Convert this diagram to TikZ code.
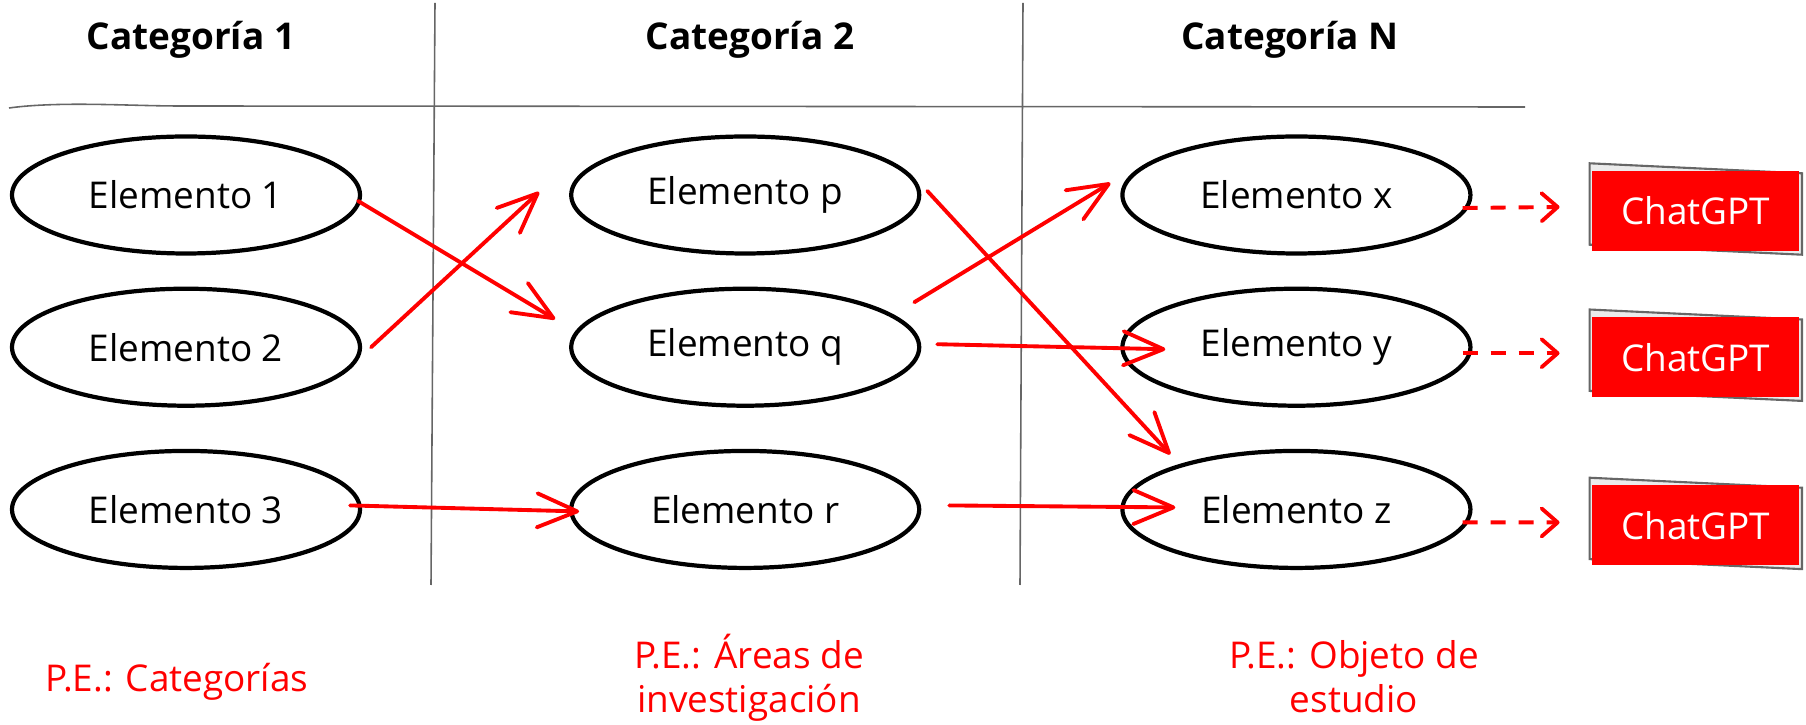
\documentclass[tikz,border=0pt]{standalone}
\usepackage{fontspec}
\setmainfont{Open Sans}
\usepackage{tikz}
\usetikzlibrary{positioning, shapes.geometric, arrows.meta, backgrounds}

\begin{document}
\begin{tikzpicture}[
      font=\fontsize{10.5}{12.8}\selectfont,
      el/.style={ellipse,draw,line width=1.2pt,minimum width=3.48cm,minimum height=1.17cm,inner sep=0pt},
      gpt/.style={fill=red,text=white,minimum width=2.07cm,minimum height=0.8cm,inner sep=0pt},
      frame/.style={draw=black!60,fill=black!8,line width=0.6pt},
      hd/.style={font=\fontsize{10.5}{12.8}\selectfont\bfseries},
      pe/.style={text=red,align=center,anchor=base},
      rule/.style={draw=black!60,line width=0.45pt},
      link/.style={red,line width=1.1pt,line cap=round,-{Straight Barb[length=4mm,width=3.4mm,round]}},
      dlink/.style={red,line width=1.1pt,dash pattern=on 1.5mm off 1.3mm,-{Straight Barb[length=1.6mm,width=2.8mm,round]}}
    ]
    \useasboundingbox (0,0) rectangle (18.06,-7.25);
    \draw[rule] (0.09,-1.08) .. controls (0.6,-1.01) and (1.3,-1.06) .. (1.8,-1.06) -- (15.25,-1.07);
    \draw[rule] (4.35,-0.03) -- (4.31,-5.85);
    \draw[rule] (10.23,-0.03) -- (10.20,-5.85);
    \node[hd] (c1) at (1.91,-0.40) {Categoría 1};
    \node[hd] (c2) at (7.50,-0.40) {Categoría 2};
    \node[hd] (cn) at (12.90,-0.40) {Categoría N};
    \node[el] (e1) at (1.86,-1.95) {Elemento 1};
    \node[el] (e2) [below=0.31cm of e1] {Elemento 2};
    \node[el] (e3) [below=0.41cm of e2] {Elemento 3};
    \node[el] (ep) [right=2.07cm of e1] {Elemento p};
    \node[el] (eq) [right=2.07cm of e2] {Elemento q};
    \node[el] (er) [right=2.07cm of e3] {Elemento r};
    \node[el] (ex) [right=1.99cm of ep] {Elemento x};
    \node[el] (ey) [right=1.99cm of eq] {Elemento y};
    \node[el] (ez) [right=1.99cm of er] {Elemento z};
    \node[gpt] (g1) [right=1.19cm of ex, yshift=-1.6mm] {ChatGPT};
    \node[gpt] (g2) [right=1.19cm of ey, yshift=-1.0mm] {ChatGPT};
    \node[gpt] (g3) [right=1.19cm of ez, yshift=-1.6mm] {ChatGPT};
    \begin{scope}[on background layer]
      \draw[frame] ([shift={(-0.2mm,0.7mm)}]g1.north west) -- ([shift={(0.2mm,-0.3mm)}]g1.north east) -- ([shift={(0.2mm,-0.3mm)}]g1.south east) -- ([shift={(-0.2mm,0.7mm)}]g1.south west) -- cycle;
      \draw[frame] ([shift={(-0.2mm,0.7mm)}]g2.north west) -- ([shift={(0.2mm,-0.3mm)}]g2.north east) -- ([shift={(0.2mm,-0.3mm)}]g2.south east) -- ([shift={(-0.2mm,0.7mm)}]g2.south west) -- cycle;
      \draw[frame] ([shift={(-0.2mm,0.7mm)}]g3.north west) -- ([shift={(0.2mm,-0.3mm)}]g3.north east) -- ([shift={(0.2mm,-0.3mm)}]g3.south east) -- ([shift={(-0.2mm,0.7mm)}]g3.south west) -- cycle;
    \end{scope}
    \draw ([shift={(-0.4mm,-0.6mm)}]e1.east) edge[link] ([shift={(-1.4mm,2.8mm)}]eq.west);
    \draw ([xshift=0.9mm]e2.east) edge[link] ([shift={(-3mm,0.3mm)}]ep.west);
    \draw ([shift={(-1.2mm,0.4mm)}]e3.east) edge[link] ([shift={(1mm,-0.2mm)}]er.west);
    \draw ([shift={(-0.7mm,4.5mm)}]eq.east) edge[link] ([shift={(-1mm,1.2mm)}]ex.west);
    \draw ([shift={(1.6mm,0.3mm)}]eq.east) edge[link] ([shift={(4.5mm,-0.2mm)}]ey.west);
    \draw ([shift={(0.6mm,0.4mm)}]ep.east) edge[link] ([shift={(5mm,5.5mm)}]ez.west);
    \draw ([shift={(2.8mm,0.4mm)}]er.east) edge[link] ([shift={(5.5mm,0.2mm)}]ez.west);
    \draw ([shift={(-1mm,-1.3mm)}]ex.east) edge[dlink] ([shift={(-3.2mm,0.4mm)}]g1.west);
    \draw ([shift={(-1mm,-0.6mm)}]ey.east) edge[dlink] ([shift={(-3.2mm,0.4mm)}]g2.west);
    \draw ([shift={(-1mm,-1.3mm)}]ez.east) edge[dlink] ([shift={(-3.2mm,0.3mm)}]g3.west);
    \node[pe] (pe1) at (1.77,-6.92) {P.E.: Categorías};
    \node[pe] (pe2) at (7.49,-7.13) {P.E.: Áreas de\\investigación};
    \node[pe] (pe3) at (13.54,-7.13) {P.E.: Objeto de\\estudio};
  \end{tikzpicture}
\end{document}
